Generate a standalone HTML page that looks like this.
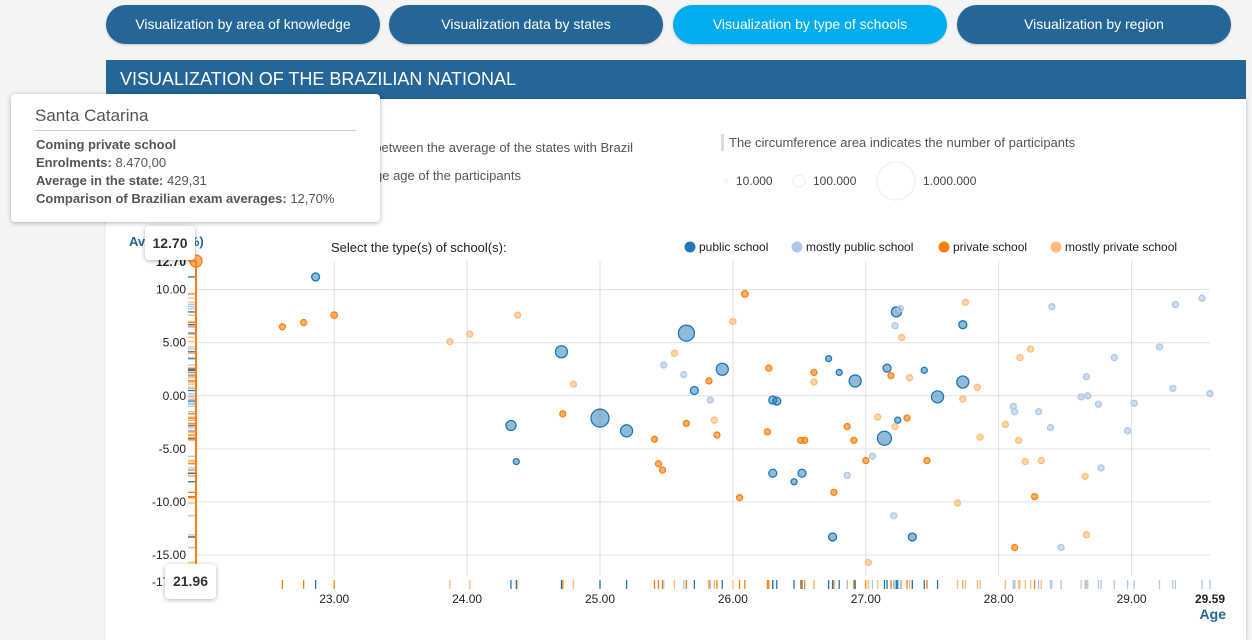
<!DOCTYPE html>
<html><head><meta charset="utf-8">
<style>
*{margin:0;padding:0;box-sizing:border-box}
body{width:1252px;height:640px;overflow:hidden;background:#f4f4f4;font-family:"Liberation Sans",Arial,sans-serif;position:relative;color:#333}
.btn{position:absolute;top:5px;height:39px;width:274px;border-radius:20px;background:#236697;color:#fff;font-size:14px;text-align:center;line-height:39px;box-shadow:0 1px 2px rgba(0,0,0,.2)}
.btn.active{background:#00aeef}
#header{position:absolute;left:106px;top:60px;width:1140px;height:39px;background:#236697;color:#fff;font-size:18px;line-height:38px;padding-left:14px}
#panel{position:absolute;left:106px;top:99px;width:1140px;height:541px;background:#fff;box-shadow:1px 0 3px rgba(0,0,0,.15)}
.tt{position:absolute;background:#fff;box-shadow:0 1px 5px rgba(0,0,0,.3);border-radius:4px}
</style></head><body>
<div class="btn" style="left:106px">Visualization by area of knowledge</div>
<div class="btn" style="left:389px">Visualization data by states</div>
<div class="btn active" style="left:673px">Visualization by type of schools</div>
<div class="btn" style="left:957px">Visualization by region</div>
<div id="header">VISUALIZATION OF THE BRAZILIAN NATIONAL</div>
<div id="panel"></div>
<div style="position:absolute;top:140px;font-size:13px;color:#555;width:500px;text-align:right;left:133px">Y: Difference between the average of the states with Brazil</div>
<div style="position:absolute;left:133px;top:168px;font-size:13px;color:#555;width:388px;text-align:right">X: Average age of the participants</div>
<div style="position:absolute;left:721px;top:134px;width:3px;height:17px;background:#ddd"></div>
<div style="position:absolute;left:729px;top:135px;font-size:13px;color:#555">The circumference area indicates the number of participants</div>
<svg width="1252" height="640" style="position:absolute;left:0;top:0" id="chart"></svg>
<div class="tt" style="left:11px;top:94px;width:369px;height:128px;padding:12px 24px">
<div style="font-size:17px;color:#555;padding-bottom:4px;border-bottom:1px solid #ccc">Santa Catarina</div>
<div style="font-size:13px;color:#555;line-height:18px;margin-top:5px;padding-left:1px"><b>Coming private school</b><br><b>Enrolments:</b> 8.470,00<br><b>Average in the state:</b> 429,31<br><b>Comparison of Brazilian exam averages:</b> 12,70%</div>
</div>
<div class="tt" style="left:145px;top:226px;width:50px;height:34px;font-weight:bold;font-size:14px;text-align:center;line-height:34px">12.70</div>
<div class="tt" style="left:165px;top:564px;width:51px;height:35px;font-weight:bold;font-size:14px;text-align:center;line-height:35px">21.96</div>
<script>
const ages=[22.86,24.71,24.33,24.37,25.0,25.2,25.65,25.92,25.71,26.30,26.33,26.3,26.52,26.46,26.72,26.8,26.92,26.75,27.16,27.23,27.14,27.24,27.44,27.54,27.73,27.73,27.35,
22.61,22.77,23.0,24.72,25.41,25.44,25.47,25.65,25.82,25.88,26.09,26.05,26.27,26.26,26.51,26.54,26.61,26.76,26.86,26.91,27.0,27.19,27.31,27.46,28.12,28.27,21.96,
23.87,24.02,24.38,24.8,25.56,25.86,26.0,26.61,27.09,27.02,27.75,27.27,27.33,27.84,27.73,27.22,27.86,27.69,28.24,28.16,28.05,28.15,28.2,28.32,28.65,28.66,
25.48,25.63,25.83,27.05,26.86,27.26,27.22,27.21,28.4,29.33,29.53,29.21,28.87,28.66,29.31,29.59,28.62,28.67,28.75,29.02,28.11,28.12,28.3,28.39,28.97,28.77,28.47];
const values=[11.2,4.15,-2.8,-6.2,-2.1,-3.3,5.9,2.5,0.5,-0.4,-0.5,-7.3,-7.3,-8.1,3.5,2.2,1.4,-13.3,2.6,7.9,-4.0,-2.3,2.4,-0.1,6.7,1.3,-13.3,
6.5,6.9,7.6,-1.7,-4.1,-6.4,-7.0,-2.6,1.4,-3.7,9.6,-9.6,2.6,-3.4,-4.2,-4.2,2.2,-9.1,-2.9,-4.2,-6.1,1.9,-2.1,-6.1,-14.3,-9.5,12.7,
5.1,5.8,7.6,1.1,4.0,-2.3,7.0,1.3,-2.0,-15.7,8.8,5.5,1.7,0.8,-0.3,-2.9,-3.9,-10.1,4.4,3.6,-2.7,-4.2,-6.2,-6.1,-7.6,-13.1,
2.9,2.0,-0.4,-5.7,-7.5,8.2,6.6,-11.3,8.4,8.6,9.2,4.6,3.6,1.8,0.7,0.2,-0.1,0.0,-0.8,-0.7,-1.0,-1.5,-1.5,-3.0,-3.3,-6.8,-14.3];
const participants=[44000,100000,69000,25000,224000,100000,177000,100000,44000,44000,44000,44000,44000,25000,25000,25000,100000,44000,44000,69000,136000,25000,25000,100000,44000,100000,44000,
25000,25000,30000,25000,25000,25000,25000,25000,25000,25000,30000,25000,25000,25000,25000,25000,25000,25000,25000,25000,25000,25000,25000,25000,25000,25000,100000,
25000,25000,25000,25000,25000,25000,25000,25000,25000,25000,25000,25000,25000,25000,25000,25000,25000,25000,25000,25000,25000,25000,25000,25000,25000,25000,
25000,25000,25000,25000,25000,25000,25000,25000,25000,25000,25000,25000,25000,25000,25000,25000,25000,25000,25000,25000,25000,25000,25000,25000,25000,25000,25000];
const types=[].concat(Array(27).fill(0),Array(27).fill(2),Array(26).fill(3),Array(27).fill(1));
const typeNames=["public school","mostly public school","private school","mostly private school"];
const xTicks=[23,24,25,26,27,28,29];
const yTicks=[-15,-10,-5,0,5,10];
const sizeLegend=[10000,100000,1000000];
const sizeLegendLabels=["10.000","100.000","1.000.000"];

const NS="http://www.w3.org/2000/svg";
const svg=document.getElementById('chart');
const colors=["#1f77b4","#aec7e8","#ff7f0e","#ffbb78"];
const xMin=21.96,xMax=29.59,yMin=-17.45,yMax=12.7;
const X0=196,X1=1210,Y0=581,Y1=261;
const sx=v=>X0+(v-xMin)/(xMax-xMin)*(X1-X0);
const sy=v=>Y0-(v-yMin)/(yMax-yMin)*(Y0-Y1);
const sr=n=>0.019*Math.sqrt(n);
function mk(tag,attrs,parent){const e=document.createElementNS(NS,tag);for(const k in attrs)e.setAttribute(k,attrs[k]);(parent||svg).appendChild(e);return e;}
function txt(x,y,s,attrs){const t=mk('text',Object.assign({x:x,y:y,'font-size':12,fill:'#222','font-family':'Liberation Sans, Arial, sans-serif'},attrs||{}));t.textContent=s;return t;}

xTicks.forEach(v=>{
  const l=mk('line',{x1:sx(v),x2:sx(v),y1:Y1,y2:Y0-5,stroke:'#e0e0e0'});
  
  
  const t=txt(sx(v),603,v.toFixed(2),{'text-anchor':'middle'});
  
  
});
yTicks.forEach(v=>{
  const l=mk('line',{x1:X0,x2:X1,y1:sy(v),y2:sy(v),stroke:'#e0e0e0'});
  
  
  const t=txt(186,sy(v)+4,v.toFixed(2),{'text-anchor':'end'});
  
  
});
let t1=txt(186,sy(yMax)+5,yMax.toFixed(2),{'text-anchor':'end','font-weight':'bold'});


let t2=txt(186,sy(yMin)+5,yMin.toFixed(2),{'text-anchor':'end'});


let t3=txt(sx(xMax),603,xMax.toFixed(2),{'text-anchor':'middle','font-weight':'bold'});


let t4=txt(1226,619,'Age',{'text-anchor':'end','font-weight':'bold',fill:'#236697','font-size':14});


let t5=txt(129,246,'Average (%)',{'font-weight':'bold',fill:'#236697','font-size':13});


let t6=txt(331,252,'Select the type(s) of school(s):',{'font-size':13});



const legX=[690,797,944,1056];
typeNames.forEach((n,i)=>{
  const c=mk('circle',{cx:legX[i],cy:247,r:5.5,fill:colors[i]});
  
  
  const t=txt(legX[i]+9,251,n,{'font-size':12});
  
  
});
const sizeX=[726,799,896];
sizeLegend.forEach((n,i)=>{
  const c=mk('circle',{cx:sizeX[i],cy:181,r:sr(n),fill:'none',stroke:'#d8d8d8','stroke-dasharray':'1,1'});
  
  
  const t=txt(sizeX[i]+sr(n)+8,185,sizeLegendLabels[i],{'font-size':12,fill:'#444'});
  
  
});
ages.forEach((a,i)=>{
  const r=mk('line',{x1:sx(a),x2:sx(a),y1:580,y2:589,stroke:colors[types[i]],'stroke-width':1.3});
  
  
  const q=mk('line',{x1:188,x2:196,y1:sy(values[i]),y2:sy(values[i]),stroke:colors[types[i]],'stroke-width':1.3});
  
  
});
const ax=mk('line',{x1:X0,x2:X0,y1:Y1,y2:Y0,stroke:'#ff7f0e','stroke-width':2});


const order=ages.map((_,i)=>i).sort((a,b)=>participants[b]-participants[a]);
order.forEach(i=>{
  const c=mk('circle',{cx:sx(ages[i]),cy:sy(values[i]),r:sr(participants[i]),fill:colors[types[i]],'fill-opacity':types[i]==0?0.5:0.6,stroke:colors[types[i]],'stroke-width':1.3});
  
  
});
</script>
</body></html>
